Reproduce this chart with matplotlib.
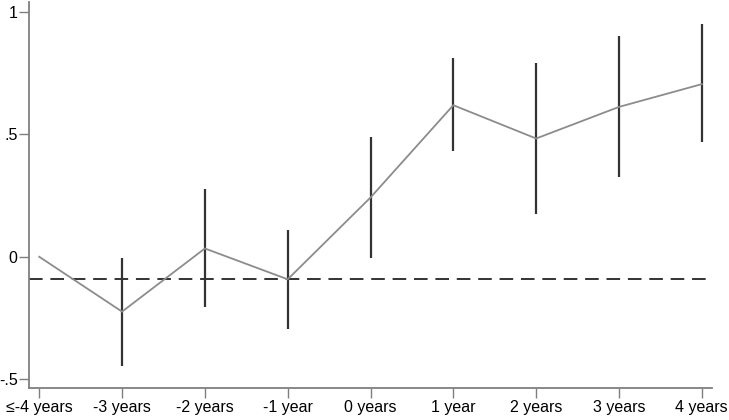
import numpy as np
import matplotlib
matplotlib.use("Agg")
import matplotlib.pyplot as plt

plt.rcParams['font.family'] = ['Liberation Sans', 'DejaVu Sans']

# event-time categories and estimates
labels = ["≤-4 years", "-3 years", "-2 years", "-1 year", "0 years",
          "1 year", "2 years", "3 years", "4 years"]
coef = [0.0, -0.224, 0.034, -0.092, 0.242, 0.619, 0.483, 0.612, 0.705]
ci_lo = [np.nan, -0.446, -0.207, -0.296, -0.007, 0.433, 0.173, 0.327, 0.467]
ci_hi = [np.nan, -0.007, 0.278, 0.109, 0.490, 0.810, 0.792, 0.901, 0.949]
ref_level = -0.092

ytick_vals = [-0.5, 0, 0.5, 1]
ytick_labels = ["-.5", "0", ".5", "1"]

x = np.arange(len(labels))

fig = plt.figure(figsize=(7.29, 4.20), dpi=100)
ax = fig.add_axes([0.0402, 0.0755, 0.9361, 0.9195])

ax.axhline(ref_level, color="#333333", lw=1.4, ls=(0, (7, 4)), zorder=1)
ax.vlines(x, ci_lo, ci_hi, color="#333333", lw=1.6, zorder=2)
ax.plot(x, coef, color="#8c8c8c", lw=1.3, zorder=3)

ax.set_xlim(-0.12, len(labels) - 1 + 0.12)
ax.set_ylim(-0.537, 1.04)
ax.set_xticks(x)
ax.set_xticklabels(labels)
ax.set_yticks(ytick_vals)
ax.set_yticklabels(ytick_labels)

for side in ["top", "right"]:
    ax.spines[side].set_visible(False)
for side in ["left", "bottom"]:
    ax.spines[side].set_color("#7f7f7f")
    ax.spines[side].set_linewidth(1.3)
ax.tick_params(axis="both", colors="#7f7f7f", length=7, width=1.0,
               labelcolor="black", labelsize=11.5)
ax.tick_params(axis="x", pad=1.5)
ax.tick_params(axis="y", pad=1.5)

fig.savefig("out.png", dpi=100)
